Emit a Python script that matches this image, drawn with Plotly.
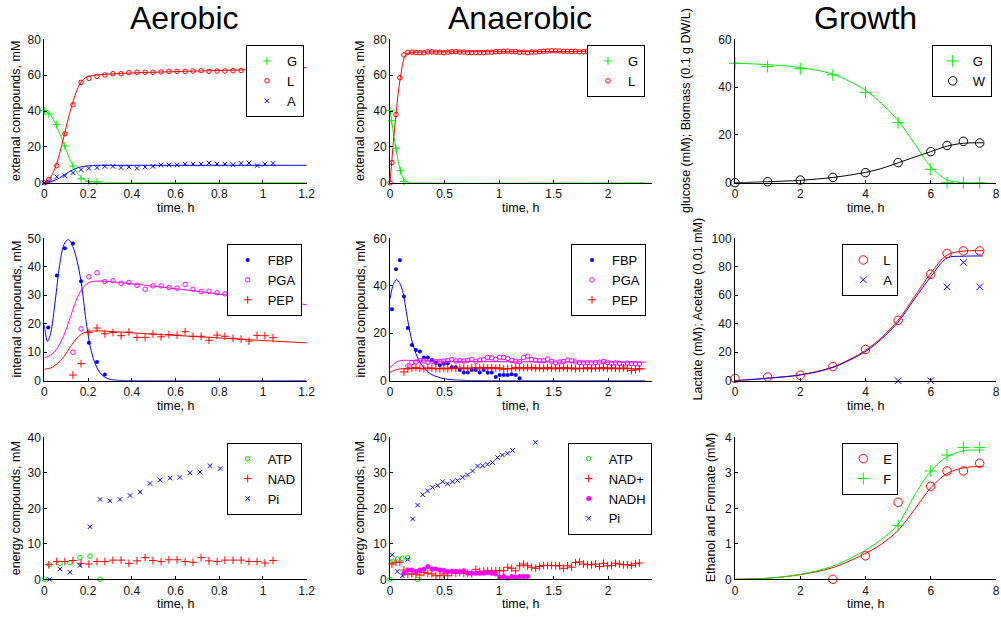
import plotly.graph_objects as go

# ---------------- Aerobic: external compounds ----------------
t_aer = [0.000, 0.021, 0.057, 0.094, 0.131, 0.168, 0.204, 0.241, 0.277, 0.314,
         0.351, 0.387, 0.424, 0.461, 0.497, 0.534, 0.570, 0.607, 0.644, 0.680,
         0.717, 0.753, 0.790, 0.826, 0.863, 0.900, 0.936, 0.973, 1.009, 1.046]
aer_G_t = [0.000, 0.021, 0.057, 0.094, 0.131, 0.168, 0.204, 0.241]
aer_G = [40.2, 38.3, 32.4, 20.5, 9.3, 2.2, 0.6, 0.6]
aer_L = [0, 1.7, 9.5, 27.3, 43.5, 56.0, 58.2, 59.3, 60.1, 60.8, 60.8, 61.4, 61.6, 61.6, 61.6,
         61.8, 62.1, 62.1, 62.1, 62.3, 62.5, 62.1, 62.3, 62.3, 62.5, 62.6, 62.8, 62.7, 63.0, 63.1]
aer_A = [0, 0.6, 3.3, 3.9, 5.6, 7.3, 8.0, 8.4, 9.1, 9.1, 8.4, 8.7, 8.0, 8.7, 9.1,
         9.9, 9.9, 9.9, 10.4, 10.4, 10.4, 11.0, 10.4, 10.4, 10.0, 10.8, 11.0, 9.5, 10.4, 10.8]
fit_aer_G_t = [0, 0.02, 0.04, 0.06, 0.08, 0.1, 0.12, 0.14, 0.16, 0.18, 0.2, 0.22, 0.25, 0.3, 1.2]
fit_aer_G = [40, 38.8, 35.5, 30.5, 24.5, 18.2, 12.3, 7.4, 3.9, 1.8, 0.7, 0.2, 0, 0, 0]
fit_aer_L_t = [0, 0.02, 0.04, 0.06, 0.08, 0.1, 0.12, 0.14, 0.16, 0.18, 0.2, 0.22, 0.25, 0.3,
               0.4, 0.5, 0.6, 0.7, 0.8, 0.9, 1.0, 1.1, 1.2]
fit_aer_L = [0, 1.5, 5.5, 12, 21, 31, 40.5, 48.5, 54.5, 57.8, 59.3, 59.8, 60.2, 60.6,
             61.2, 61.6, 62.0, 62.3, 62.6, 62.9, 63.3, 63.7, 64.2]
fit_aer_A_t = [0, 0.02, 0.04, 0.06, 0.08, 0.1, 0.12, 0.14, 0.16, 0.18, 0.2, 0.22, 0.25, 0.3, 0.5, 1.2]
fit_aer_A = [0, 0.3, 1.0, 2.1, 3.5, 5.0, 6.5, 7.7, 8.6, 9.1, 9.4, 9.6, 9.7, 9.7, 9.7, 9.7]

# ---------------- Aerobic: internal compounds ----------------
aer_FBP_t = [0.018, 0.057, 0.094, 0.131, 0.168, 0.204, 0.241, 0.277]
aer_FBP = [18.7, 36.9, 46.5, 48.2, 34.9, 13.3, 6.6, 2.2]
aer_PGA_t = t_aer[4:]
aer_PGA = [10.0, 18.2, 36.5, 37.9, 34.8, 35.1, 34.2, 34.5, 33.5, 32.1, 33.3, 33.3, 32.7,
           32.5, 33.8, 32.1, 31.3, 31.4, 30.9, 30.5, 30.0, 28.8, 28.9, 29.5, 28.4, 28.5]
aer_PEP = [2.0, 6.0, 16.9, 18.5, 16.5, 16.9, 15.8, 17.1, 15.2, 15.2, 16.4, 15.4, 16.2,
           16.0, 17.2, 15.6, 15.6, 14.2, 16.0, 15.6, 14.9, 14.6, 13.9, 15.9, 15.8, 15.1]
fit_aer_FBP_t = [0, 0.015, 0.03, 0.05, 0.07, 0.09, 0.11, 0.13, 0.15, 0.17, 0.19, 0.21,
                 0.23, 0.25, 0.27, 0.3, 0.34, 0.4, 1.2]
fit_aer_FBP = [19.5, 13.8, 17, 28, 40.5, 47.8, 49.6, 47.2, 42, 34, 21.5, 12, 6.5, 3.3, 1.6,
               0.5, 0.1, 0, 0]
fit_aer_PGA_t = [0, 0.03, 0.06, 0.09, 0.12, 0.15, 0.18, 0.21, 0.25, 0.3, 0.4, 0.5, 0.6,
                 0.7, 0.8, 0.9, 1.0, 1.1, 1.2]
fit_aer_PGA = [8, 9, 11.5, 16, 22.5, 29, 33, 34.6, 35, 34.8, 34, 33.2, 32.3, 31.4, 30.4,
               29.5, 28.6, 27.6, 26.7]
fit_aer_PEP_t = [0, 0.03, 0.06, 0.09, 0.12, 0.15, 0.18, 0.21, 0.25, 0.3, 0.4, 0.6, 0.8, 1.0, 1.2]
fit_aer_PEP = [4, 4.5, 6, 8.5, 12, 15, 16.8, 17.4, 17.5, 17.3, 16.8, 15.9, 15.0, 14.1, 13.3]

# ---------------- Aerobic: energy compounds ----------------
aer_ATP_t = [0, 0.024, 0.072, 0.117, 0.163, 0.209, 0.255]
aer_ATP = [0, 4.1, 4.5, 4.7, 6.1, 6.5, 0]
aer_NAD_t = t_aer[1:]
aer_NAD = [4.1, 5.0, 5.0, 5.3, 4.5, 4.3, 5.0, 5.0, 5.4, 5.4, 4.5, 5.2, 6.1, 5.3, 5.0,
           5.5, 5.5, 5.0, 4.8, 6.1, 5.2, 5.0, 5.4, 5.4, 5.4, 5.0, 5.0, 4.6, 5.3]
aer_Pi_t = [0.024, 0.072, 0.117, 0.163, 0.209, 0.255, 0.300, 0.346, 0.392, 0.438, 0.483,
            0.529, 0.575, 0.620, 0.666, 0.712, 0.758, 0.804]
aer_Pi = [0, 2.9, 2.0, 3.9, 14.8, 22.5, 22.1, 22.5, 23.6, 24.6, 27.0, 28.0, 28.5, 28.7,
          30.0, 30.2, 32.0, 31.2]

# ---------------- Anaerobic ----------------
t_ana = [0.018, 0.055, 0.091, 0.128, 0.164, 0.201, 0.238, 0.274, 0.311, 0.347, 0.384,
         0.421, 0.457, 0.494, 0.530, 0.567, 0.604, 0.640, 0.677, 0.713, 0.750, 0.787,
         0.823, 0.860, 0.896, 0.933, 0.970, 1.006, 1.043, 1.079, 1.116, 1.153, 1.189,
         1.226, 1.262, 1.299, 1.336, 1.372, 1.409, 1.445, 1.482, 1.519, 1.555, 1.592,
         1.628, 1.665, 1.702, 1.738, 1.775, 1.811, 1.848, 1.885, 1.921, 1.958, 1.994,
         2.031, 2.068, 2.104, 2.141, 2.177, 2.214, 2.251, 2.287]
ana_G_t = [0, 0.015, 0.055, 0.095, 0.128]
ana_G = [40.2, 34.6, 19.2, 6.7, 0.6]
ana_L_t = [0] + t_ana
ana_L = [0, 11.2, 38.0, 58.6, 71.3, 72.7, 72.8, 72.6, 72.5, 72.5, 73.0, 73.0, 72.8, 72.8,
         72.5, 72.8, 73.1, 73.1, 72.9, 72.9, 72.6, 72.6, 72.6, 72.6, 72.6, 72.8, 72.8,
         73.1, 73.1, 73.3, 73.4, 73.1, 73.1, 72.8, 72.9, 72.5, 72.9, 72.9, 73.1, 73.3,
         73.5, 73.6, 73.5, 73.5, 73.3, 73.3, 73.2, 73.3, 73.0, 73.1, 73.2, 73.0, 73.3,
         73.1, 73.2, 73.4, 73.1, 73.3, 73.2, 73.0, 73.3, 73.2, 73.1, 73.3]
fit_ana_G_t = [0, 0.015, 0.035, 0.055, 0.075, 0.095, 0.115, 0.135, 0.16, 0.2, 2.34]
fit_ana_G = [40, 34.5, 26, 19, 12, 7, 3.3, 1.3, 0.3, 0, 0]
fit_ana_L_t = [0, 0.015, 0.035, 0.055, 0.075, 0.095, 0.115, 0.135, 0.16, 0.2, 0.3, 1.0, 2.34]
fit_ana_L = [0, 11, 26, 38, 50, 58.6, 66, 70.5, 72.3, 72.7, 72.9, 73.1, 73.3]

ana_FBP_t = t_ana[:33]
ana_FBP = [30.1, 47.0, 50.8, 35.5, 22.2, 15.0, 12.9, 12.3, 9.8, 9.8, 8.8, 7.5, 6.5, 7.1,
           7.4, 5.7, 5.7, 4.5, 3.5, 3.5, 4.5, 4.5, 3.5, 4.5, 3.3, 3.5, 1.6, 2.4, 2.4, 2.4,
           2.7, 2.4, 1.0]
ana_PGA_t = t_ana[4:]
ana_PGA = [6.2, 7.7, 7.9, 8.5, 8.3, 7.8, 8.2, 8.0, 8.1, 8.3, 8.5, 8.9, 8.3, 8.4, 8.3,
           8.6, 9.0, 8.2, 8.7, 8.9, 9.8, 9.6, 9.0, 9.9, 9.8, 9.3, 8.5, 8.2, 8.0, 9.8,
           10.3, 9.0, 8.6, 8.4, 8.4, 9.1, 8.1, 7.5, 7.9, 8.1, 8.7, 8.4, 7.9, 7.6, 7.5,
           7.6, 7.5, 7.6, 7.8, 8.1, 7.6, 7.3, 7.5, 7.3, 7.0, 7.4, 7.2, 7.1, 7.0]
ana_PEP_t = t_ana[3:]
ana_PEP = [3.7, 5.0, 5.3, 5.5, 5.2, 5.0, 5.4, 5.3, 5.1, 5.0, 5.3, 5.0, 5.4, 5.2, 5.3,
           5.4, 5.1, 5.4, 5.5, 5.4, 5.6, 5.4, 5.5, 5.3, 5.4, 4.9, 5.1, 5.2, 5.6, 5.4,
           5.4, 5.5, 5.6, 5.3, 5.4, 5.2, 5.5, 5.3, 5.4, 5.2, 5.5, 5.2, 5.4, 5.0, 5.3,
           5.2, 5.5, 5.1, 5.4, 5.3, 5.5, 5.2, 5.4, 5.3, 5.1, 5.4, 5.2, 4.3, 4.6, 5.0]
fit_ana_FBP_t = [0, 0.03, 0.06, 0.09, 0.12, 0.15, 0.17, 0.2, 0.25, 0.3, 0.35, 0.4, 0.5,
                 0.6, 0.7, 0.8, 1.0, 2.34]
fit_ana_FBP = [34.5, 40.5, 42.6, 41, 37, 29, 23.5, 17, 10, 6, 3.6, 2.2, 0.8, 0.3, 0.1,
               0.03, 0, 0]
fit_ana_PGA_t = [0, 0.03, 0.06, 0.1, 0.15, 0.25, 0.5, 1.0, 2.34]
fit_ana_PGA = [5.5, 6.8, 7.8, 8.5, 8.6, 8.4, 8.2, 8.0, 7.8]
fit_ana_PEP_t = [0, 0.03, 0.06, 0.1, 0.15, 0.25, 1.0, 2.34]
fit_ana_PEP = [3.5, 4.2, 4.7, 5.0, 5.1, 5.1, 5.0, 5.0]

ana_ATP_t = [0, 0.021, 0.067, 0.113, 0.162, 0.253]
ana_ATP = [0, 5.0, 5.7, 5.9, 6.1, 0]
ana_NAD = [4.3, 4.8, 4.8, 2.6, 1.5, 1.5, 1.5, 1.2, 1.9, 1.7, 1.5, 1.0, 1.0, 1.5, 1.0,
           1.9, 1.7, 1.9, 1.7, 1.7, 1.5, 2.8, 2.2, 2.3, 2.4, 2.3, 2.4, 2.4, 2.4, 3.4,
           3.1, 2.4, 3.8, 4.3, 3.8, 3.4, 3.1, 3.6, 3.9, 3.9, 3.9, 3.8, 3.8, 3.1, 3.8,
           3.4, 4.7, 4.9, 4.3, 4.1, 4.1, 4.3, 3.6, 4.5, 3.8, 3.9, 4.5, 4.3, 4.1, 4.1,
           3.9, 4.4, 4.6]
ana_NADH_t = t_ana[3:35]
ana_NADH = [1.7, 2.6, 2.6, 2.2, 2.6, 2.8, 3.6, 2.9, 2.9, 2.6, 2.5, 2.2, 2.3, 2.3, 2.1,
            2.4, 1.7, 1.7, 1.7, 1.7, 1.7, 1.9, 1.7, 1.5, 0.6, 0.8, 0.4, 0.8, 0.6, 0.8,
            0.8, 0.8]
ana_Pi_t = [0.021, 0.067, 0.113, 0.162, 0.208, 0.253, 0.300, 0.345, 0.390, 0.437, 0.482,
            0.528, 0.574, 0.620, 0.666, 0.711, 0.757, 0.803, 0.849, 0.895, 0.940, 0.986,
            1.032, 1.078, 1.124, 1.334]
ana_Pi = [6.9, 2.2, 1.0, 5.6, 17.0, 20.9, 23.8, 24.9, 25.9, 26.4, 27.5, 26.9, 27.5, 27.8,
          28.7, 29.4, 30.5, 31.9, 32.0, 32.4, 32.9, 34.3, 35.0, 35.5, 36.3, 38.6]

# ---------------- Growth ----------------
t_gr = [0, 1, 2, 3, 4, 5, 6, 6.5, 7, 7.5]
gr_G = [50.0, 48.6, 47.7, 45.1, 37.8, 25.1, 5.6, 0, 0, 0]
gr_W = [0, 0.4, 1.1, 2.2, 4.2, 8.4, 13.0, 15.6, 17.3, 16.6]
fit_gr_t = [0, 1, 2, 3, 4, 4.5, 5, 5.5, 6, 6.5, 7, 7.6]
fit_gr_G = [50, 49.4, 48.2, 45.4, 38.7, 33, 26, 16.5, 6.7, 1.2, 0.05, 0]
fit_gr_W = [0, 0.4, 1.0, 2.2, 4.3, 6.0, 8.3, 10.7, 13.0, 15.3, 16.5, 16.7]

gr_L = [1.6, 2.6, 3.8, 9.9, 21.9, 42.4, 74.8, 89.4, 91.1, 91.1]
gr_A_t = [5, 6, 6.5, 7, 7.5]
gr_A = [0, 0, 65.9, 83.1, 65.9]
fit_gr_L = [0, 1.8, 4.2, 9.6, 21.3, 30.5, 42.5, 59.0, 75.5, 88.3, 91.0, 91.3]
fit_gr_A = [0, 1.7, 4.0, 9.3, 20.5, 29.5, 41.2, 57.3, 73.0, 86.2, 87.4, 87.6]

gr_E_t = [3, 4, 5, 6, 6.5, 7, 7.5]
gr_E = [0, 0.66, 2.17, 2.62, 3.05, 3.05, 3.27]
gr_F_t = [5, 6, 6.5, 7, 7.5]
gr_F = [1.51, 3.05, 3.50, 3.71, 3.71]
fit_gr_E = [0, 0.03, 0.13, 0.33, 0.73, 1.0, 1.38, 1.96, 2.58, 2.98, 3.14, 3.18]
fit_gr_F = [0, 0.03, 0.14, 0.37, 0.82, 1.13, 1.55, 2.36, 3.05, 3.45, 3.62, 3.64]

# ---------------- axes / labels ----------------
col_titles = ["Aerobic", "Anaerobic", "Growth"]
y_titles = [["external compounds, mM", "external compounds, mM", "glucose (mM); Biomass (0.1 g DW/L)"],
            ["internal compounds, mM", "internal compounds, mM", "Lactate (mM); Acetate (0.01 mM)"],
            ["energy compounds, mM", "energy compounds, mM", "Ethanol and Formate (mM)"]]
x_title = "time, h"
x_ticks = [[0, 0.2, 0.4, 0.6, 0.8, 1, 1.2], [0, 0.5, 1, 1.5, 2], [0, 2, 4, 6, 8]]
x_ticktext = [["0", "0.2", "0.4", "0.6", "0.8", "1", "1.2"], ["0", "0.5", "1", "1.5", "2"],
              ["0", "2", "4", "6", "8"]]
x_ranges = [[0, 1.2], [0, 2.4], [0, 8]]
y_ticks = [[[0, 20, 40, 60, 80], [0, 20, 40, 60, 80], [0, 20, 40, 60]],
           [[0, 10, 20, 30, 40, 50], [0, 20, 40, 60], [0, 20, 40, 60, 80, 100]],
           [[0, 10, 20, 30, 40], [0, 10, 20, 30, 40], [0, 1, 2, 3, 4]]]

W, H = 1001, 617
FONT = "Liberation Sans, Arial, sans-serif"
x_px = [(44.3, 306.7), (390.0, 651.7), (735.0, 996.0)]
y_px = [(39.3, 182.7), (238.3, 380.7), (437.3, 579.3)]

GREEN, RED, BLUE, MAG, BLACK = "#00ee00", "#ff0000", "#0000ff", "#ff00ff", "#000000"

fig = go.Figure()


def ax(p):
    return ("x" if p == 1 else f"x{p}"), ("y" if p == 1 else f"y{p}")


def leg(p):
    return "legend" if p == 1 else f"legend{p}"


def pts(p, x, y, name, sym, color, size):
    xa, ya = ax(p)
    filled = sym == "circle"
    fig.add_trace(go.Scatter(
        x=x, y=y, mode="markers", name=name, xaxis=xa, yaxis=ya, legend=leg(p),
        cliponaxis=False,
        marker=dict(symbol=sym, size=size, color=color,
                    line=dict(color=color, width=0 if filled else 1))))


def fit(p, x, y, color):
    xa, ya = ax(p)
    fig.add_trace(go.Scatter(
        x=x, y=y, mode="lines", xaxis=xa, yaxis=ya, showlegend=False, hoverinfo="skip",
        cliponaxis=False, line=dict(color=color, width=1, shape="spline", smoothing=0.9)))


S_PLUS, S_CIRC, S_X, S_DOT = 5.5, 4.5, 4.5, 4
B_CIRC, B_PLUS, B_X = 8.5, 8.5, 6.5

# Panel 1
fit(1, fit_aer_G_t, fit_aer_G, GREEN)
fit(1, fit_aer_L_t, fit_aer_L, RED)
fit(1, fit_aer_A_t, fit_aer_A, BLUE)
pts(1, aer_G_t, aer_G, "G", "cross-thin", GREEN, S_PLUS)
pts(1, t_aer, aer_L, "L", "circle-open", RED, S_CIRC)
pts(1, t_aer, aer_A, "A", "x-thin", BLUE, S_X)
# Panel 2
fit(2, fit_ana_G_t, fit_ana_G, GREEN)
fit(2, fit_ana_L_t, fit_ana_L, RED)
pts(2, ana_G_t, ana_G, "G", "cross-thin", GREEN, S_PLUS)
pts(2, ana_L_t, ana_L, "L", "circle-open", RED, S_CIRC)
# Panel 3
fit(3, fit_gr_t, fit_gr_G, GREEN)
fit(3, fit_gr_t, fit_gr_W, BLACK)
pts(3, t_gr, gr_G, "G", "cross-thin", GREEN, B_PLUS)
pts(3, t_gr, gr_W, "W", "circle-open", BLACK, B_CIRC)
# Panel 4
fit(4, fit_aer_FBP_t, fit_aer_FBP, BLUE)
fit(4, fit_aer_PGA_t, fit_aer_PGA, MAG)
fit(4, fit_aer_PEP_t, fit_aer_PEP, RED)
pts(4, aer_FBP_t, aer_FBP, "FBP", "circle", BLUE, S_DOT)
pts(4, aer_PGA_t, aer_PGA, "PGA", "circle-open", MAG, S_CIRC)
pts(4, aer_PGA_t, aer_PEP, "PEP", "cross-thin", RED, S_PLUS)
# Panel 5
fit(5, fit_ana_FBP_t, fit_ana_FBP, BLUE)
fit(5, fit_ana_PGA_t, fit_ana_PGA, MAG)
fit(5, fit_ana_PEP_t, fit_ana_PEP, RED)
pts(5, ana_FBP_t, ana_FBP, "FBP", "circle", BLUE, S_DOT)
pts(5, ana_PGA_t, ana_PGA, "PGA", "circle-open", MAG, S_CIRC)
pts(5, ana_PEP_t, ana_PEP, "PEP", "cross-thin", RED, S_PLUS)
# Panel 6
fit(6, fit_gr_t, fit_gr_L, RED)
fit(6, fit_gr_t, fit_gr_A, BLUE)
pts(6, t_gr, gr_L, "L", "circle-open", RED, B_CIRC)
pts(6, gr_A_t, gr_A, "A", "x-thin", BLUE, B_X)
# Panel 7
pts(7, aer_ATP_t, aer_ATP, "ATP", "circle-open", GREEN, S_CIRC)
pts(7, aer_NAD_t, aer_NAD, "NAD", "cross-thin", RED, S_PLUS)
pts(7, aer_Pi_t, aer_Pi, "Pi", "x-thin", BLUE, S_X)
# Panel 8
pts(8, ana_ATP_t, ana_ATP, "ATP", "circle-open", GREEN, S_CIRC)
pts(8, t_ana, ana_NAD, "NAD+", "cross-thin", RED, S_PLUS)
pts(8, ana_NADH_t, ana_NADH, "NADH", "circle", MAG, 5)
pts(8, ana_Pi_t, ana_Pi, "Pi", "x-thin", BLUE, S_X)
# Panel 9
fit(9, fit_gr_t, fit_gr_E, RED)
fit(9, fit_gr_t, fit_gr_F, GREEN)
pts(9, gr_E_t, gr_E, "E", "circle-open", RED, B_CIRC)
pts(9, gr_F_t, gr_F, "F", "cross-thin", GREEN, B_PLUS)

layout = dict(template="none", width=W, height=H, hovermode=False,
              margin=dict(l=0, r=0, t=0, b=0, pad=0, autoexpand=False),
              paper_bgcolor="white", plot_bgcolor="white",
              font=dict(family=FONT, size=12, color="black"))

leg_right = [304, 645, 991.7, 301.7, 646, 898.3, 301.7, 651.7, 898.3]
leg_top = [45, 45, 45, 244, 244, 244, 442.7, 442.7, 442.7]

annotations = []
for r in range(3):
    for c in range(3):
        p = r * 3 + c + 1
        xn = "xaxis" if p == 1 else f"xaxis{p}"
        yn = "yaxis" if p == 1 else f"yaxis{p}"
        xa, ya = ax(p)
        common = dict(showline=True, linecolor="black", linewidth=1, showgrid=False,
                      zeroline=False, ticks="inside", ticklen=3, tickcolor="black",
                      automargin=False,
                      tickfont=dict(size=12, family=FONT, color="#111"), mirror=False)
        layout[xn] = dict(domain=[x_px[c][0] / W, x_px[c][1] / W], range=x_ranges[c],
                          anchor=ya, tickmode="array", tickvals=x_ticks[c],
                          ticktext=x_ticktext[c], **common)
        yt = y_ticks[r][c]
        layout[yn] = dict(domain=[1 - y_px[r][1] / H, 1 - y_px[r][0] / H],
                          range=[yt[0], yt[-1]], anchor=xa, tickmode="array",
                          tickvals=yt, ticktext=[str(v) for v in yt], **common)
        layout[leg(p)] = dict(x=leg_right[p - 1] / W, y=1 - leg_top[p - 1] / H,
                              xanchor="right", yanchor="top", bgcolor="white",
                              bordercolor="black", borderwidth=1, itemwidth=30,
                              font=dict(size=13, family=FONT, color="black"))
        annotations.append(dict(text=x_title, x=(x_px[c][0] + x_px[c][1]) / 2 / W,
                                y=1 - (y_px[r][1] + 25) / H, xref="paper", yref="paper",
                                xanchor="center", yanchor="middle", showarrow=False,
                                font=dict(size=12.5, family=FONT, color="black")))

ytitle_x = [[16, 360, 686], [16, 360, 697], [16, 360, 711]]
for r in range(3):
    for c in range(3):
        annotations.append(dict(text=y_titles[r][c], x=ytitle_x[r][c] / W,
                                y=1 - (y_px[r][0] + y_px[r][1]) / 2 / H,
                                xref="paper", yref="paper", textangle=-90,
                                xanchor="center", yanchor="middle", showarrow=False,
                                font=dict(size=12.5, family=FONT, color="black")))

title_x = [184, 520, 865]
for c in range(3):
    annotations.append(dict(text=col_titles[c], x=title_x[c] / W, y=1 - 18 / H,
                            xref="paper", yref="paper", xanchor="center", yanchor="middle",
                            showarrow=False, font=dict(size=32, family=FONT, color="black")))

layout["annotations"] = annotations
fig.update_layout(**layout)
fig.write_html("out.html", config={"displayModeBar": False, "staticPlot": True},
               post_script="document.body.style.margin='0px';document.body.style.overflow='hidden';")
